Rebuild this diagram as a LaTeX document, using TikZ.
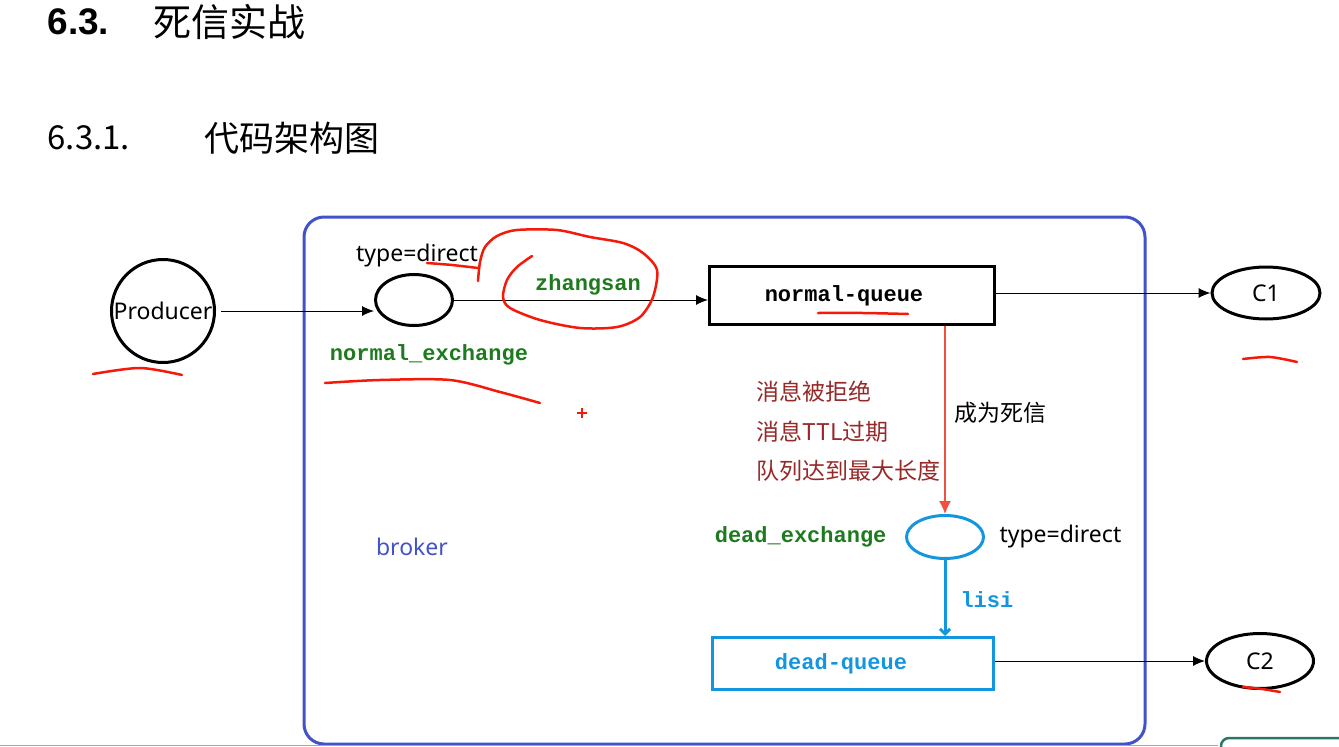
\documentclass[tikz,border=0pt]{standalone}
\usepackage{fontspec}
\setmainfont{Noto Sans CJK SC}
\setmonofont{Liberation Mono}
\newfontfamily\headfont{Liberation Sans}
\newfontfamily\labelfont{Noto Sans}
\usetikzlibrary{arrows.meta,shapes.geometric}

\definecolor{brokerblue}{RGB}{66,82,201}
\definecolor{deadblue}{RGB}{20,150,222}
\definecolor{keygreen}{RGB}{30,122,30}
\definecolor{causered}{RGB}{150,40,40}
\definecolor{flowred}{RGB}{240,80,60}
\definecolor{inkred}{RGB}{245,25,10}
\definecolor{uiteal}{RGB}{40,120,100}

\newcommand\pxfont[1]{\fontsize{#1}{#1}\selectfont}

\begin{document}
\begin{tikzpicture}[x=1pt,y=-1pt,
  flow/.style={line width=1pt,-{Latex[length=12pt,width=10pt]}},
  deadflow/.style={line width=1.2pt,flowred,-{Latex[length=13pt,width=12pt]}},
  keyflow/.style={line width=3pt,deadblue,-{Straight Barb[length=5pt,width=10pt]}},
  exch/.style={ellipse,draw,line width=3pt,inner sep=0pt},
  queue/.style={rectangle,draw,line width=3pt,inner sep=0pt,font=\ttfamily\bfseries\pxfont{22}},
  party/.style={ellipse,draw,line width=3pt,inner sep=0pt,font=\labelfont\pxfont{23}},
  keyname/.style={font=\ttfamily\bfseries\pxfont{22},text=keygreen},
  plain/.style={font=\labelfont\pxfont{23}},
  cause/.style={font=\pxfont{23},text=causered,anchor=west},
  redmark/.style={draw=inkred,line width=2.5pt,line cap=round,line join=round}]

\useasboundingbox (0,0) rectangle (1339,747);

% Headings.
\node[anchor=west,font=\headfont\bfseries\pxfont{37}] (h1num) at (44,22) {6.3.};
\node[anchor=west,font=\pxfont{38}] (h1) at (150,22) {死信实战};
\node[anchor=west,font=\pxfont{33}] (h2num) at (44,138) {6.3.1.};
\node[anchor=west,font=\pxfont{35}] (h2) at (201,138) {代码架构图};

% Broker frame.
\draw[brokerblue,line width=3pt,rounded corners=20pt] (304,217) rectangle (1145,744);
\node[plain,text=brokerblue] (broker) at (412,547) {broker};

% Parties, exchanges, queues.
\node[party,circle,minimum size=103pt] (prod) at (163,311) {Producer};
\node[exch,minimum width=77pt,minimum height=51pt] (nex) at (414,300) {};
\node[queue,minimum width=285pt,minimum height=58pt] (nq) at (852,295.5) {};
\node[party,minimum width=108pt,minimum height=52pt] (c1) at (1266,293) {C1};
\node[exch,draw=deadblue,minimum width=77pt,minimum height=43pt] (dex) at (945,537) {};
\node[queue,draw=deadblue,minimum width=281pt,minimum height=52pt] (dq) at (853,663.5) {};
\node[party,minimum width=107pt,minimum height=55pt] (c2) at (1260,661) {C2};

% Labels.
\node[font=\ttfamily\bfseries\pxfont{22}] (nqname) at ([xshift=-8pt]nq) {normal-queue};
\node[font=\ttfamily\bfseries\pxfont{22},text=deadblue] (dqname) at ([xshift=-12pt]dq) {dead-queue};
\node[plain] (ntype) at (417,256) {type=direct};
\node[keyname] (nexname) at (429,355) {normal\_exchange};
\node[keyname] (nkey) at (588,285) {zhangsan};
\node[keyname,anchor=east] (dexname) at (890,537) {dead\_exchange};
\node[plain,anchor=west] (dtype) at (996,537) {type=direct};
\node[keyname,text=deadblue,anchor=west] (dkey) at (957,600) {lisi};
\node[font=\pxfont{23},anchor=west] (dead) at (951,413) {成为死信};
\node[cause] (why1) at (753,392) {消息被拒绝};
\node[cause] (why2) at (753,432) {消息TTL过期};
\node[cause] (why3) at (753,471) {队列达到最大长度};

% Connectors.
\draw[flow] ([xshift=5pt]prod.east |- 0,311) -- (nex.west |- 0,311);
\draw[flow] (nex.east) -- (nq.west |- nex.east);
\draw[flow] (nq.east |- c1.west) -- (c1.west);
\draw[deadflow] (dex.north |- nq.south) -- (dex.north);
\draw[keyflow] (dex.south) -- (dex.south |- dq.north);
\draw[flow] (dq.east |- c2.west) -- (c2.west);

% Hand-drawn red marks.
\draw[redmark] plot[smooth] coordinates {(93,374) (140,368) (182,375)};
\draw[redmark] plot[smooth] coordinates {(427,263) (452,265) (478,268)};
\draw[redmark] plot[smooth] coordinates {(478,281) (480,262) (485,247) (497,236)
  (517,230) (557,230) (590,237) (623,243) (643,253) (657,270) (653,297) (640,317)
  (617,327) (580,328) (540,320) (510,308) (503,297) (507,280) (517,267) (532,256)};
\draw[redmark] plot[smooth] coordinates {(325,383) (380,380) (450,380) (500,392) (540,403)};
\draw[redmark] plot[smooth] coordinates {(818,313) (863,313) (908,314)};
\draw[redmark] plot[smooth] coordinates {(1243,359) (1270,357) (1297,362)};
\draw[redmark] plot[smooth] coordinates {(1243,687) (1262,689) (1280,692)};
\draw[inkred,line width=1.5pt] (577,413) -- (587,413) (582,408) -- (582,418);

% Screen edge.
\draw[black!35,line width=1.5pt] (0,745.5) -- (1218,745.5);
\draw[uiteal,line width=2.5pt,rounded corners=8pt] (1221,750) -- (1221,738) -- (1339,738);

\end{tikzpicture}
\end{document}
